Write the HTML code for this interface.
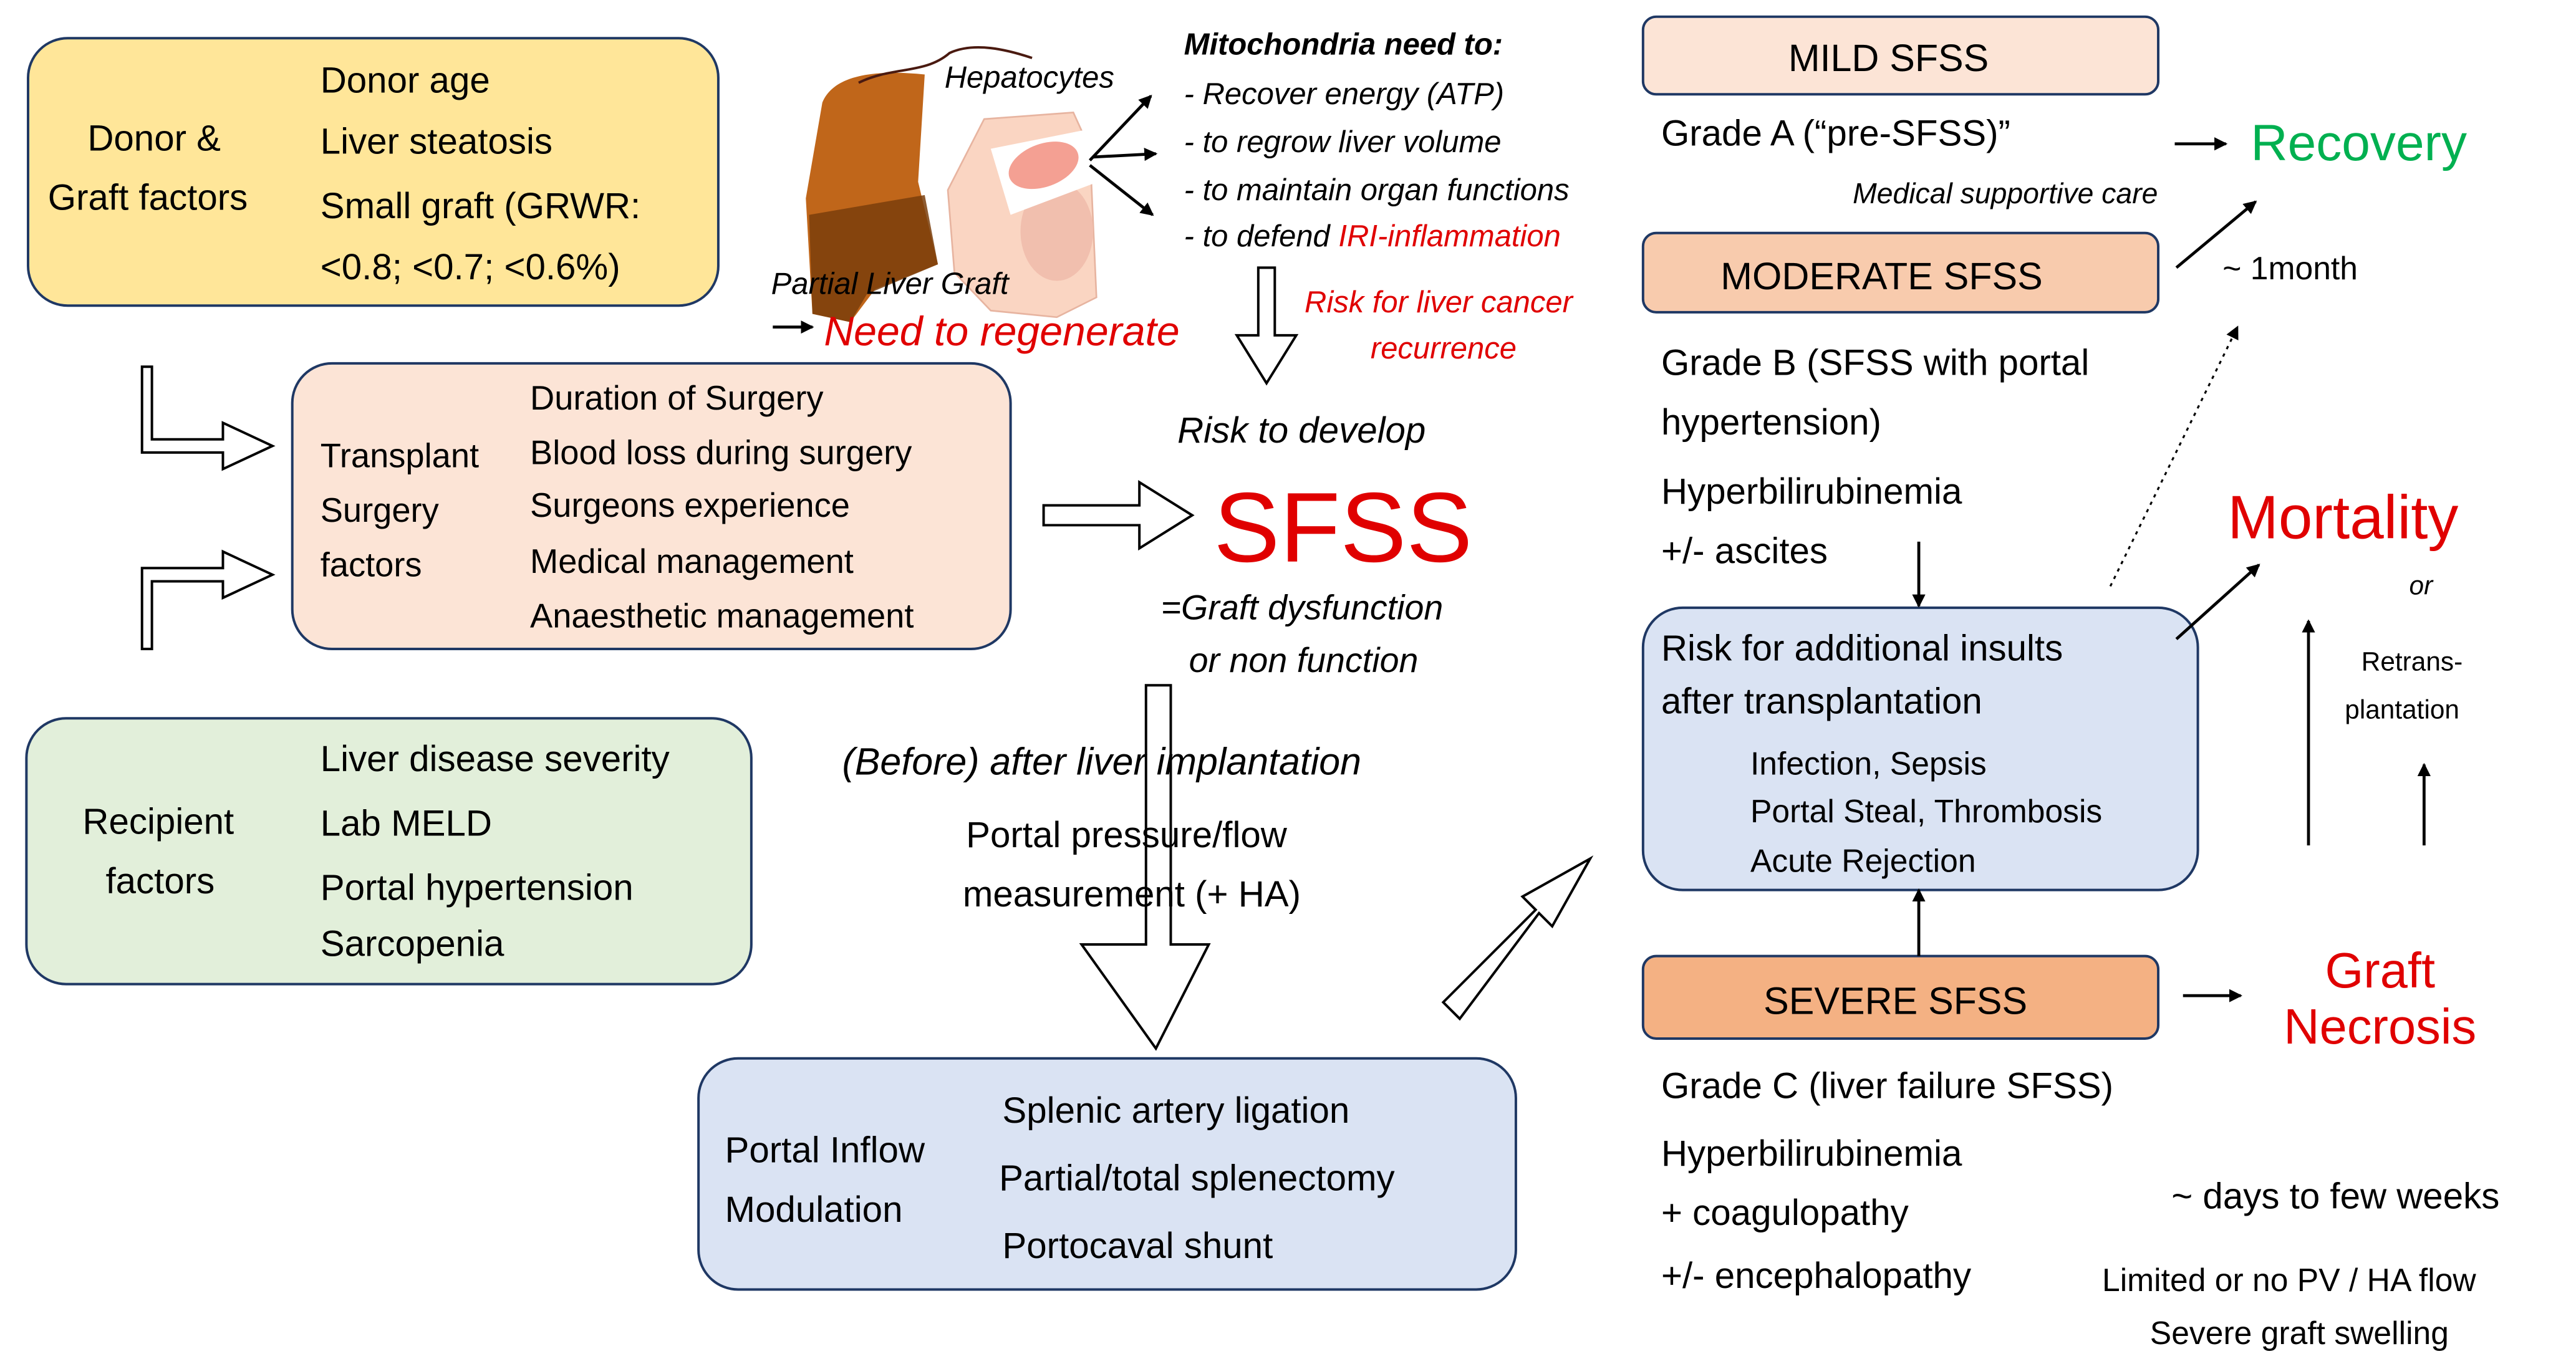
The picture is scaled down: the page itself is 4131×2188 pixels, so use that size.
<!DOCTYPE html>
<html><head><meta charset="utf-8"><style>
html,body{margin:0;padding:0;background:#fff;}
svg{display:block}
text{font-family:"Liberation Sans",sans-serif;fill:#000}
.i{font-style:italic}
.r{fill:#e00000}
</style></head><body>
<svg width="4131" height="2188" viewBox="0 0 1560 826" xmlns="http://www.w3.org/2000/svg">
<defs>
<marker id="ah" markerWidth="8" markerHeight="8" refX="7" refY="4" orient="auto" markerUnits="userSpaceOnUse"><path d="M0,0 L8,4 L0,8 z" fill="#000"/></marker>
</defs>
<g stroke="#1f3864" stroke-width="1.5">
<rect x="17" y="23" width="418" height="162" rx="24" fill="#ffe699"/>
<rect x="177" y="220" width="435" height="173" rx="24" fill="#fce4d6"/>
<rect x="16" y="435" width="439" height="161" rx="24" fill="#e2efda"/>
<rect x="423" y="641" width="495" height="140" rx="24" fill="#dae3f3"/>
<rect x="995" y="10" width="312" height="47" rx="8" fill="#fce4d6"/>
<rect x="995" y="141" width="312" height="48" rx="8" fill="#f8cbad"/>
<rect x="995" y="368" width="336" height="171" rx="24" fill="#dae3f3"/>
<rect x="995" y="579" width="312" height="50" rx="8" fill="#f4b183"/>
</g>
<!-- liver illustration -->
<path d="M498,62 C505,45 530,42 560,45 L556,110 L568,160 L530,175 L515,195 L492,190 L488,120 Z" fill="#c0661a"/>
<path d="M490,130 L560,118 L568,160 L525,178 L515,195 L492,190 Z" fill="#7a3e0c" opacity="0.85"/>
<path d="M520,50 C540,40 560,45 575,32 C590,25 610,30 625,35" stroke="#4a1a10" fill="none" stroke-width="1.5"/>
<path d="M596,72 L650,68 L660,90 L664,180 L640,192 L600,188 L578,165 L574,115 Z" fill="#fad5c2" stroke="#e7b4a0"/>
<ellipse cx="640" cy="140" rx="22" ry="30" fill="#f1bfae"/>
<path d="M600,90 L660,78 L665,110 L612,130 Z" fill="#fff"/>
<ellipse cx="632" cy="100" rx="22" ry="13" fill="#f4a093" transform="rotate(-20 632 100)"/>
<!-- hollow arrows -->
<g fill="#fff" stroke="#000" stroke-width="1.5">
<path d="M86,222 L92,222 L92,266 L135,266 L135,256 L165,270 L135,284 L135,274 L86,274 Z"/>
<path d="M86,393 L92,393 L92,352 L135,352 L135,362 L165,348 L135,334 L135,344 L86,344 Z"/>
<path d="M632,306 L690,306 L690,292 L722,312 L690,332 L690,318 L632,318 Z"/>
<path d="M762,162 L772,162 L772,203 L785,203 L767,232 L749,203 L762,203 Z"/>
<path d="M694,415 L709,415 L709,572 L732,572 L700,635 L655,572 L694,572 Z"/>
<path d="M874,607 L930,551 L922,543 L963,520 L940,561 L932,553 L884,617 Z"/>
</g>
<!-- thin arrows -->
<g stroke="#000" stroke-width="1.8" fill="none">
<line x1="660" y1="97" x2="697" y2="58" marker-end="url(#ah)"/>
<line x1="662" y1="95" x2="700" y2="93" marker-end="url(#ah)"/>
<line x1="660" y1="100" x2="698" y2="130" marker-end="url(#ah)"/>
<line x1="468" y1="198" x2="492" y2="198" marker-end="url(#ah)"/>
<line x1="1317" y1="87" x2="1348" y2="87" marker-end="url(#ah)"/>
<line x1="1318" y1="162" x2="1366" y2="122" marker-end="url(#ah)"/>
<line x1="1278" y1="355" x2="1355" y2="198" stroke-dasharray="2,3" stroke-width="1.2" marker-end="url(#ah)"/>
<line x1="1162" y1="328" x2="1162" y2="367" marker-end="url(#ah)"/>
<line x1="1162" y1="579" x2="1162" y2="539" marker-end="url(#ah)"/>
<line x1="1318" y1="387" x2="1368" y2="342" marker-end="url(#ah)"/>
<line x1="1398" y1="512" x2="1398" y2="376" marker-end="url(#ah)"/>
<line x1="1468" y1="512" x2="1468" y2="463" marker-end="url(#ah)"/>
<line x1="1322" y1="603" x2="1357" y2="603" marker-end="url(#ah)"/>
</g>
<!-- texts -->
<g font-size="22">
<text x="53" y="91">Donor &amp;</text>
<text x="29" y="127">Graft factors</text>
<text x="194" y="56">Donor age</text>
<text x="194" y="93">Liver steatosis</text>
<text x="194" y="132">Small graft (GRWR:</text>
<text x="194" y="169">&lt;0.8; &lt;0.7; &lt;0.6%)</text>
</g>
<g font-size="20.5">
<text x="194" y="283">Transplant</text>
<text x="194" y="316">Surgery</text>
<text x="194" y="349">factors</text>
<text x="321" y="248">Duration of Surgery</text>
<text x="321" y="281">Blood loss during surgery</text>
<text x="321" y="313">Surgeons experience</text>
<text x="321" y="347">Medical management</text>
<text x="321" y="380">Anaesthetic management</text>
</g>
<g font-size="22">
<text x="50" y="505">Recipient</text>
<text x="64" y="541">factors</text>
<text x="194" y="467">Liver disease severity</text>
<text x="194" y="506">Lab MELD</text>
<text x="194" y="545">Portal hypertension</text>
<text x="194" y="579">Sarcopenia</text>
<text x="439" y="704">Portal Inflow</text>
<text x="439" y="740">Modulation</text>
<text x="607" y="680">Splenic artery ligation</text>
<text x="605" y="721">Partial/total splenectomy</text>
<text x="607" y="762">Portocaval shunt</text>
</g>
<g font-size="18.5">
<text x="572" y="53" class="i">Hepatocytes</text>
<text x="717" y="33" class="i" font-weight="bold">Mitochondria need to:</text>
<text x="717" y="63" class="i">- Recover energy (ATP)</text>
<text x="717" y="92" class="i">- to regrow liver volume</text>
<text x="717" y="121" class="i">- to maintain organ functions</text>
<text x="717" y="149" class="i">- to defend <tspan style="fill:#e00000">IRI-inflammation</tspan></text>
<text x="467" y="178" class="i">Partial Liver Graft</text>
<text x="790" y="189" class="i r">Risk for liver cancer</text>
<text x="830" y="217" class="i r">recurrence</text>
</g>
<text x="499" y="209" font-size="25" class="i r">Need to regenerate</text>
<text x="713" y="268" font-size="22" class="i">Risk to develop</text>
<text x="735" y="340" font-size="60" style="fill:#e00000">SFSS</text>
<text x="703" y="375" font-size="21" class="i">=Graft dysfunction</text>
<text x="720" y="407" font-size="21" class="i">or non function</text>
<text x="510" y="469" font-size="23" class="i">(Before) after liver implantation</text>
<text x="585" y="513" font-size="22">Portal pressure/flow</text>
<text x="583" y="549" font-size="22">measurement (+ HA)</text>
<g font-size="23">
<text x="1083" y="43">MILD SFSS</text>
<text x="1042" y="175">MODERATE SFSS</text>
<text x="1068" y="614">SEVERE SFSS</text>
</g>
<g font-size="22">
<text x="1006" y="88">Grade A (“pre-SFSS)”</text>
<text x="1006" y="227">Grade B (SFSS with portal</text>
<text x="1006" y="263">hypertension)</text>
<text x="1006" y="305">Hyperbilirubinemia</text>
<text x="1006" y="341">+/- ascites</text>
<text x="1006" y="400">Risk for additional insults</text>
<text x="1006" y="432">after transplantation</text>
<text x="1006" y="665">Grade C (liver failure SFSS)</text>
<text x="1006" y="706">Hyperbilirubinemia</text>
<text x="1006" y="742">+ coagulopathy</text>
<text x="1006" y="780">+/- encephalopathy</text>
<text x="1315" y="732">~ days to few weeks</text>
</g>
<g font-size="19.5">
<text x="1060" y="469">Infection, Sepsis</text>
<text x="1060" y="498">Portal Steal, Thrombosis</text>
<text x="1060" y="528">Acute Rejection</text>
<text x="1346" y="169">~ 1month</text>
<text x="1273" y="782">Limited or no PV / HA flow</text>
<text x="1302" y="814">Severe graft swelling</text>
</g>
<text x="1122" y="123" font-size="17.5" class="i">Medical supportive care</text>
<text x="1363" y="97" font-size="31" style="fill:#00b050">Recovery</text>
<text x="1349" y="326" font-size="37" style="fill:#e00000">Mortality</text>
<text x="1459" y="360" font-size="16" class="i">or</text>
<text x="1430" y="406" font-size="16">Retrans-</text>
<text x="1420" y="435" font-size="16">plantation</text>
<text x="1408" y="598" font-size="30" style="fill:#e00000">Graft</text>
<text x="1383" y="632" font-size="30" style="fill:#e00000">Necrosis</text>
</svg>
</body></html>
